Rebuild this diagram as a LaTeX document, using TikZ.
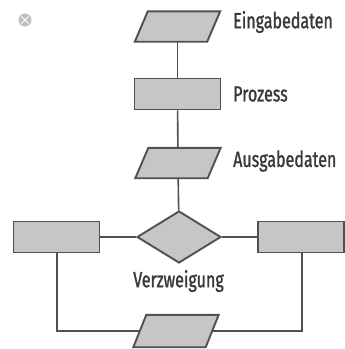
\documentclass[tikz,border=0pt]{standalone}
\usepackage{fontspec}
\setmainfont{Fira Sans}[FakeStretch=0.73,FakeBold=1.2]
\usetikzlibrary{shapes.geometric}
\definecolor{boxfill}{HTML}{C6C6C6}
\definecolor{boxline}{HTML}{505050}
\definecolor{labeltext}{HTML}{383838}
\begin{document}
\begin{tikzpicture}[x=1pt,y=-1pt,
  conn/.style={draw=boxline,line width=1.6pt},
  shapebase/.style={draw=boxline,fill=boxfill,line width=1.9pt,inner sep=0pt},
  procbox/.style={shapebase,rectangle,minimum width=86pt,minimum height=31pt},
  % data boxes: an invisible core rectangle, outlined afterwards as a parallelogram
  datacore/.style={rectangle,inner sep=0pt,minimum width=72pt,minimum height=30pt},
  decision/.style={shapebase,diamond,minimum width=84pt,minimum height=52pt},
  lbl/.style={text=labeltext,font=\fontsize{22}{25}\selectfont,inner sep=0pt,anchor=west}]
\useasboundingbox (0,0) rectangle (345,349);
% close icon
\node[circle,fill=black!25,minimum size=13pt,inner sep=0pt] (close) at (25,20) {};
\draw[white,line width=1pt] ([shift={(-3.5,-3.5)}]close.center) -- ([shift={(3.5,3.5)}]close.center)
  ([shift={(-3.5,3.5)}]close.center) -- ([shift={(3.5,-3.5)}]close.center);
% main column
\node[datacore] (in) at (177.5,26.5) {};
\node[procbox] (proc) at (177.5,94) {};
\node[datacore] (out) at (178,163) {};
\node[decision] (dec) at (179,237) {};
\node[procbox] (left) at (56.5,237) {};
\node[procbox] (right) at (301,237) {};
\node[datacore,minimum height=32pt] (bot) at (176,331) {};
\foreach \n in {in,out,bot}{
  \filldraw[shapebase] ([xshift=-6.5pt]\n.south west) -- ([xshift=6.5pt]\n.north west)
    -- ([xshift=6.5pt]\n.north east) -- ([xshift=-6.5pt]\n.south east) -- cycle;
}
% labels
\node[lbl] (lin) at (233,22) {Eingabedaten};
\node[lbl] (lproc) at (233,94) {Prozess};
\node[lbl] (lout) at (233,161) {Ausgabedaten};
\node[lbl,anchor=center] (ldec) at (178.5,281) {Verzweigung};
% connectors
\draw[conn] (in) -- (proc);
\draw[conn] (proc) -- (out);
\draw[conn] (out) -- (dec);
\draw[conn] (left) -- (dec);
\draw[conn] (dec) -- (right);
\coordinate (lc) at (57,331);
\coordinate (rc) at (302,331);
\draw[conn] (left.south -| lc) -- (lc) -- (bot);
\draw[conn] (right.south -| rc) -- (rc) -- (bot);
\end{tikzpicture}
\end{document}
